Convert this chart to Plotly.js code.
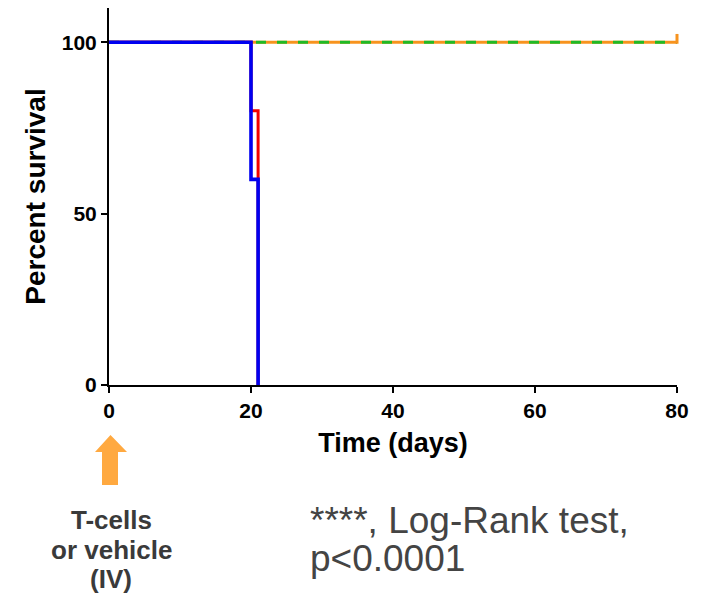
<!DOCTYPE html>
<html>
<head>
<meta charset="utf-8">
<script src="https://cdn.plot.ly/plotly-3.0.1.min.js"></script>
<style>html,body{margin:0;padding:0;background:#fff}#chart{width:702px;height:597px}</style>
</head>
<body>
<div id="chart"></div>
<script>
// Survival step data (days, percent survival)
const daysVehicleA = [0, 20, 20, 21, 21];
const survVehicleA = [100, 100, 80, 80, 0];      // red
const daysVehicleB = [0, 20, 20, 21, 21];
const survVehicleB = [100, 100, 60, 60, 0];      // blue
const daysTcellsA = [0, 80];
const survTcellsA = [100, 100];                  // orange
const daysTcellsB = [0, 80];
const survTcellsB = [100, 100];                  // green dashed
const censorDays = [80];
const censorSurv = [101];
const xTicks = [0, 20, 40, 60, 80];
const yTicks = [0, 50, 100];
const doseLabel = ['T-cells', 'or vehicle', '(IV)'];
const statLabel = ['****, Log-Rank test,', 'p<0.0001'];

const W = 702, H = 597;
const ML = 109, MR = 25, MT = 8, MB = 212;
const PW = W - ML - MR, PH = H - MT - MB;
const px = v => (v - ML) / PW;
const py = v => (H - MB - v) / PH;
const FONT = 'Liberation Sans, Arial, sans-serif';

const traces = [
  {x: daysTcellsA, y: survTcellsA, mode: 'lines', line: {color: '#F7931E', width: 3}, hoverinfo: 'skip'},
  {x: daysTcellsB, y: survTcellsB, mode: 'lines', line: {color: '#1FBA26', width: 3, dash: '10px,11px'}, hoverinfo: 'skip'},
  {x: censorDays, y: censorSurv, mode: 'markers', cliponaxis: false, marker: {symbol: 'line-ns', size: 7, line: {color: '#F7931E', width: 3}}, hoverinfo: 'skip'},
  {x: daysVehicleA, y: survVehicleA, mode: 'lines', line: {color: '#F20000', width: 3}, hoverinfo: 'skip'},
  {x: daysVehicleB, y: survVehicleB, mode: 'lines', line: {color: '#0000F0', width: 3.6}, hoverinfo: 'skip'}
];

const arrowPath = (() => {
  const pts = [[95,452],[110.5,435],[127,452],[118,452],[118,485],[102,485],[102,452]];
  return 'M ' + pts.map(p => px(p[0]).toFixed(5) + ',' + py(p[1]).toFixed(5)).join(' L ') + ' Z';
})();

const doseY = [520, 550, 579];
const statY = [520, 558];
const annotations = [];
doseLabel.forEach((t, i) => annotations.push({
  xref: 'paper', yref: 'paper', x: px(111), y: py(doseY[i]), xanchor: 'center', yanchor: 'middle',
  text: '<b>' + t + '</b>', showarrow: false, font: {size: 26, color: '#3a3a3a', family: FONT}
}));
statLabel.forEach((t, i) => annotations.push({
  xref: 'paper', yref: 'paper', x: px(308), y: py(statY[i]), xanchor: 'left', yanchor: 'middle',
  text: t.replace('<', '&lt;'), showarrow: false, font: {size: 37, color: '#444', family: FONT}
}));

const layout = {
  width: W, height: H,
  margin: {l: ML, r: MR, t: MT, b: MB},
  paper_bgcolor: '#fff', plot_bgcolor: '#fff',
  showlegend: false,
  font: {family: FONT, color: '#000'},
  xaxis: {
    range: [0, 80], tickvals: xTicks, ticktext: xTicks.map(String),
    showgrid: false, zeroline: false, showline: true, linecolor: '#000', linewidth: 2,
    ticks: 'outside', ticklen: 6, tickwidth: 2, tickcolor: '#000',
    tickfont: {size: 21, family: FONT, weight: 'bold'},
    title: {text: '<b>Time (days)</b>', font: {size: 27}, standoff: 12},
    automargin: false, fixedrange: true
  },
  yaxis: {
    range: [0, 110], tickvals: yTicks, ticktext: yTicks.map(String),
    showgrid: false, zeroline: false, showline: true, linecolor: '#000', linewidth: 2,
    ticks: 'outside', ticklen: 6, tickwidth: 2, tickcolor: '#000',
    tickfont: {size: 21, family: FONT, weight: 'bold'},
    title: {text: '<b>Percent survival</b>', font: {size: 28}, standoff: 8},
    automargin: false, fixedrange: true
  },
  shapes: [
    {type: 'path', xref: 'paper', yref: 'paper', path: arrowPath, fillcolor: '#FFA940', line: {width: 0}, layer: 'above'}
  ],
  annotations: annotations
};

Plotly.newPlot('chart', traces, layout, {displayModeBar: false, staticPlot: true});
</script>
</body>
</html>
